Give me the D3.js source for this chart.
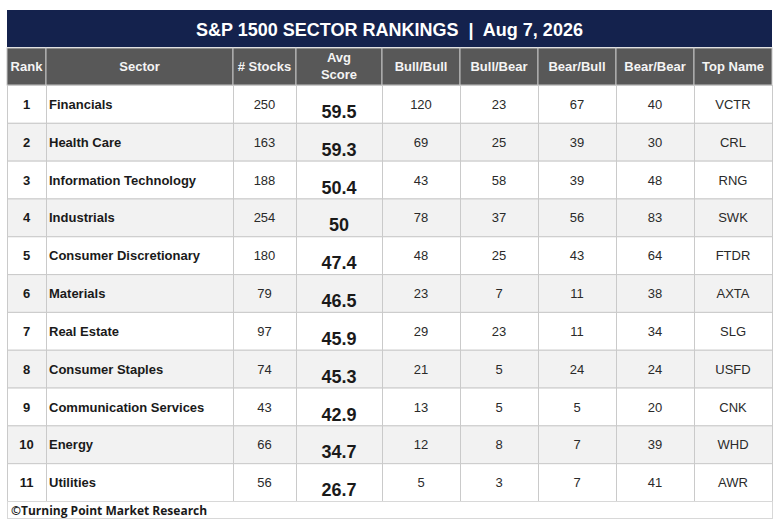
<!DOCTYPE html>
<html>
<head>
<meta charset="utf-8">
<script src="https://cdn.jsdelivr.net/npm/d3@7"></script>
<style>
  html, body { margin: 0; padding: 0; background: #fff; }
  svg { display: block; }
</style>
</head>
<body>
<svg id="chart" width="780" height="525"></svg>
<script>
// data
const ranks    = [1, 2, 3, 4, 5, 6, 7, 8, 9, 10, 11]
const sectors  = ["Financials", "Health Care", "Information Technology", "Industrials",
                  "Consumer Discretionary", "Materials", "Real Estate", "Consumer Staples",
                  "Communication Services", "Energy", "Utilities"]
const stocks   = [250, 163, 188, 254, 180, 79, 97, 74, 43, 66, 56]
const avgScore = [59.5, 59.3, 50.4, 50, 47.4, 46.5, 45.9, 45.3, 42.9, 34.7, 26.7]
const bullBull = [120, 69, 43, 78, 48, 23, 29, 21, 13, 12, 5]
const bullBear = [23, 25, 58, 37, 25, 7, 23, 5, 5, 8, 3]
const bearBull = [67, 39, 39, 56, 43, 11, 11, 24, 5, 7, 7]
const bearBear = [40, 30, 48, 83, 64, 38, 34, 24, 20, 39, 41]
const topName  = ["VCTR", "CRL", "RNG", "SWK", "FTDR", "AXTA", "SLG", "USFD", "CNK", "WHD", "AWR"]
const headers  = [["Rank"], ["Sector"], ["# Stocks"], ["Avg", "Score"], ["Bull/Bull"],
                  ["Bull/Bear"], ["Bear/Bull"], ["Bear/Bear"], ["Top Name"]]
const title    = "S&P 1500 SECTOR RANKINGS  |  Aug 7, 2026"
const footer   = "\u00A9Turning Point Market Research"

// layout
const colEdges = [7, 46, 233, 296, 382, 460, 538, 616, 694, 772]
const titleTop = 10, titleBottom = 47
const headTop = 48, headBottom = 85
const bodyBottom = 501, footBottom = 518
const navy = "#14224d", headGray = "#585858", gridGray = "#cacaca", stripe = "#f2f2f2"
const font = "Arial, 'Liberation Sans', sans-serif"

const svg = d3.select("#chart")

const columns = headers.map((h, i) => ({ i, h, x0: colEdges[i], x1: colEdges[i + 1] }))

const y = d3.scaleBand()
    .domain(ranks)
    .range([headBottom, bodyBottom])

const rows = ranks.map((r, i) => ({
    rank: r,
    cells: [r, sectors[i], stocks[i], avgScore[i], bullBull[i], bullBear[i], bearBull[i], bearBear[i], topName[i]]
}))

// title bar
svg.append("rect")
    .attr("x", colEdges[0]).attr("y", titleTop)
    .attr("width", colEdges[9] - colEdges[0]).attr("height", titleBottom - titleTop)
    .attr("fill", navy)
svg.append("text")
    .attr("x", (colEdges[0] + colEdges[9]) / 2).attr("y", 36)
    .attr("text-anchor", "middle")
    .attr("fill", "#fff")
    .attr("font-family", font).attr("font-weight", "bold").attr("font-size", 18)
    .attr("xml:space", "preserve")
    .style("white-space", "pre")
    .text(title)

// header row
const head = svg.append("g")
head.selectAll("rect")
    .data(columns)
    .join("rect")
    .attr("x", d => d.x0).attr("y", headTop)
    .attr("width", d => d.x1 - d.x0).attr("height", headBottom - headTop)
    .attr("fill", headGray)
    .attr("stroke", "#c4c4c4").attr("stroke-width", 1)
head.selectAll("text")
    .data(columns)
    .join("text")
    .attr("x", d => (d.x0 + d.x1) / 2)
    .attr("y", d => d.h.length > 1 ? 62 : 71)
    .attr("text-anchor", "middle")
    .attr("fill", "#f4f4f4")
    .attr("font-family", font).attr("font-weight", "bold").attr("font-size", 13)
    .each(function(d){
        const t = d3.select(this)
        d.h.forEach((line, k) => {
            t.append("tspan")
                .attr("x", (d.x0 + d.x1) / 2)
                .attr("dy", k === 0 ? 0 : 17)
                .text(line)
        })
    })

// body rows
const body = svg.append("g")
const rowG = body.selectAll("g.row")
    .data(rows)
    .join("g")
    .attr("class", "row")

rowG.selectAll("rect")
    .data(d => columns.map(c => ({ c, rank: d.rank })))
    .join("rect")
    .attr("x", d => d.c.x0 + 0.5).attr("y", d => y(d.rank) + 0.5)
    .attr("width", d => d.c.x1 - d.c.x0).attr("height", y.bandwidth())
    .attr("fill", d => d.rank % 2 === 0 ? stripe : "#fff")
    .attr("stroke", gridGray).attr("stroke-width", 1)

rowG.selectAll("text")
    .data(d => d.cells.map((v, i) => ({ v, c: columns[i], rank: d.rank })))
    .join("text")
    .attr("x", d => d.c.i === 1 ? d.c.x0 + 3 : (d.c.x0 + d.c.x1) / 2)
    .attr("y", d => y(d.rank) + (d.c.i === 3 ? 33 : 24))
    .attr("text-anchor", d => d.c.i === 1 ? "start" : "middle")
    .attr("fill", d => d.c.i <= 1 || d.c.i === 3 ? "#1a1a1a" : "#2a2a2a")
    .attr("font-family", font)
    .attr("font-weight", d => d.c.i <= 1 || d.c.i === 3 ? "bold" : "normal")
    .attr("font-size", d => d.c.i === 3 ? 18 : 13)
    .text(d => d.v)

// footer row
svg.append("rect")
    .attr("x", colEdges[0] + 0.5).attr("y", bodyBottom + 0.5)
    .attr("width", colEdges[9] - colEdges[0]).attr("height", footBottom - bodyBottom)
    .attr("fill", "#fff")
    .attr("stroke", "#d8d8d8").attr("stroke-width", 1)
svg.append("text")
    .attr("x", 11).attr("y", 515)
    .attr("fill", "#1a1a1a")
    .attr("font-family", "'Open Sans', sans-serif").attr("font-weight", "bold").attr("font-size", 12)
    .text(footer)
</script>
</body>
</html>
